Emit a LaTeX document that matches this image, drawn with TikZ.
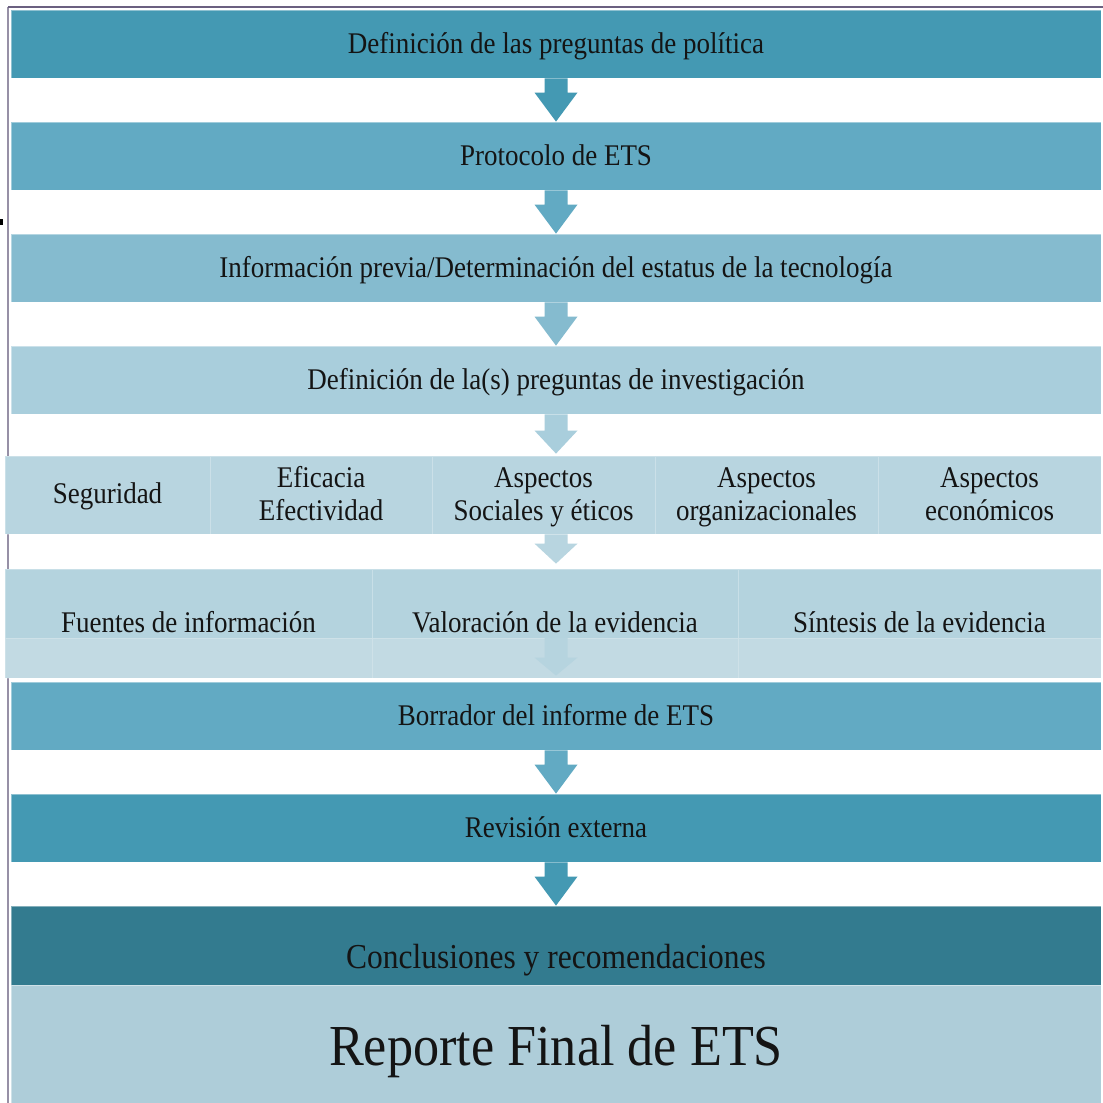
\documentclass[tikz,border=0pt]{standalone}
\usepackage{fontspec}
\setmainfont{Liberation Serif}[FakeStretch=0.9]
\usetikzlibrary{calc}
\definecolor{cA}{HTML}{4499B3}
\definecolor{cB}{HTML}{62AAC3}
\definecolor{cC}{HTML}{85BBCF}
\definecolor{cD}{HTML}{A9CEDC}
\definecolor{cE}{HTML}{B8D5E0}
\definecolor{cF}{HTML}{B4D3DE}
\definecolor{cG}{HTML}{C2DAE3}
\definecolor{cGa}{HTML}{B6D4DF}
\definecolor{cH}{HTML}{337B8F}
\definecolor{cI}{HTML}{AECDD9}
\definecolor{framec}{HTML}{6B6080}
\definecolor{ink}{HTML}{141414}
\newcommand{\flowarrow}[4]{%
  \fill[#3] let \p1=(#1), \p2=(#2) in
    (\x1-11.5pt,\y1) -- (\x1+11.5pt,\y1) -- (\x1+11.5pt,\y2+#4pt) --
    (\x1+21.5pt,\y2+#4pt) -- (\x1,\y2) -- (\x1-21.5pt,\y2+#4pt) --
    (\x1-11.5pt,\y2+#4pt) -- cycle;}
\begin{document}
\begin{tikzpicture}[x=1pt,y=-1pt,
  every node/.style={text=ink},
  bar/.style={fill=#1, draw=white, draw opacity=0.4, line width=0.8pt,
    minimum width=1090pt, minimum height=68pt, inner sep=0pt,
    text height=18pt, text depth=0pt, font=\fontsize{30}{33}\selectfont},
  cell/.style={fill=cE, draw=white, draw opacity=0.28, line width=0.8pt,
    minimum height=78pt, inner sep=0pt, align=center,
    text height=17pt, text depth=0pt, font=\fontsize{30}{33}\selectfont},
  cellii/.style={cell, text height=50pt},
  rowsix/.style={fill=cF, draw=white, draw opacity=0.28, line width=0.8pt,
    minimum height=69pt, inner sep=0pt,
    text height=57pt, text depth=0pt, font=\fontsize{30}{33}\selectfont},
  strip/.style={fill=cG, draw=white, draw opacity=0.2, line width=0.8pt,
    minimum height=40pt, inner sep=0pt}]
\fill[white] (0,0) rectangle (1103,1103);
\useasboundingbox (0,0) rectangle (1103,1103);
% frame
\draw[framec!70, line width=1.1pt] (8,1103) -- (8,7);
\draw[framec, line width=1.3pt] (8,7) -- (1103,7);
\fill[black] (0,219) rectangle (3,225);
% main boxes
\node[bar=cA] (b1) at (556,44) {Definición de las preguntas de política};
\node[bar=cB] (b2) at (556,156) {Protocolo de ETS};
\node[bar=cC] (b3) at (556,268) {Información previa/Determinación del estatus de la tecnología};
\node[bar=cD] (b4) at (556,380) {Definición de la(s) preguntas de investigación};
% aspects row
\node[cell, minimum width=205pt] (s1) at (107.5,495) {Seguridad};
\node[cellii, minimum width=222pt] (s2) at (321,495) {Eficacia\\Efectividad};
\node[cellii, minimum width=223pt] (s3) at (543.5,495) {Aspectos\\Sociales y éticos};
\node[cellii, minimum width=223pt] (s4) at (766.5,495) {Aspectos\\organizacionales};
\node[cellii, minimum width=223pt] (s5) at (989.5,495) {Aspectos\\económicos};
% evidence row
\node[rowsix, minimum width=367pt] (e1) at (188.5,603.5) {Fuentes de información};
\node[rowsix, minimum width=366pt] (e2) at (555,603.5) {Valoración de la evidencia};
\node[rowsix, minimum width=363pt] (e3) at (919.5,603.5) {Síntesis de la evidencia};
\node[strip, minimum width=367pt] (l1) at (188.5,658) {};
\node[strip, minimum width=366pt] (l2) at (555,658) {};
\node[strip, minimum width=363pt] (l3) at (919.5,658) {};
% lower boxes
\node[bar=cB] (b7) at (556,716) {Borrador del informe de ETS};
\node[bar=cA] (b8) at (556,828) {Revisión externa};
\node[bar=cH, minimum height=79pt, text height=45pt, font=\fontsize{35}{38}\selectfont] (b9) at (556,945.5) {Conclusiones y recomendaciones};
\node[bar=cI, minimum height=118pt, text height=42pt, font=\fontsize{58}{62}\selectfont] (b10) at (556,1044) {Reporte Final de ETS};
% connectors
\flowarrow{b1.south}{b2.north}{cA}{29}
\flowarrow{b2.south}{b3.north}{cB}{29}
\flowarrow{b3.south}{b4.north}{cC}{29}
\flowarrow{b4.south}{$(b4.south |- s3.north)+(0,-2)$}{cD}{23}
\flowarrow{b4.south |- s3.south}{$(b4.south |- e2.north)+(0,-5)$}{cE}{20}
\flowarrow{b4.south |- l2.north}{$(b7.north)+(0,-6)$}{cGa}{18}
\flowarrow{b7.south}{b8.north}{cB}{29}
\flowarrow{b8.south}{b9.north}{cA}{29}
\end{tikzpicture}
\end{document}
